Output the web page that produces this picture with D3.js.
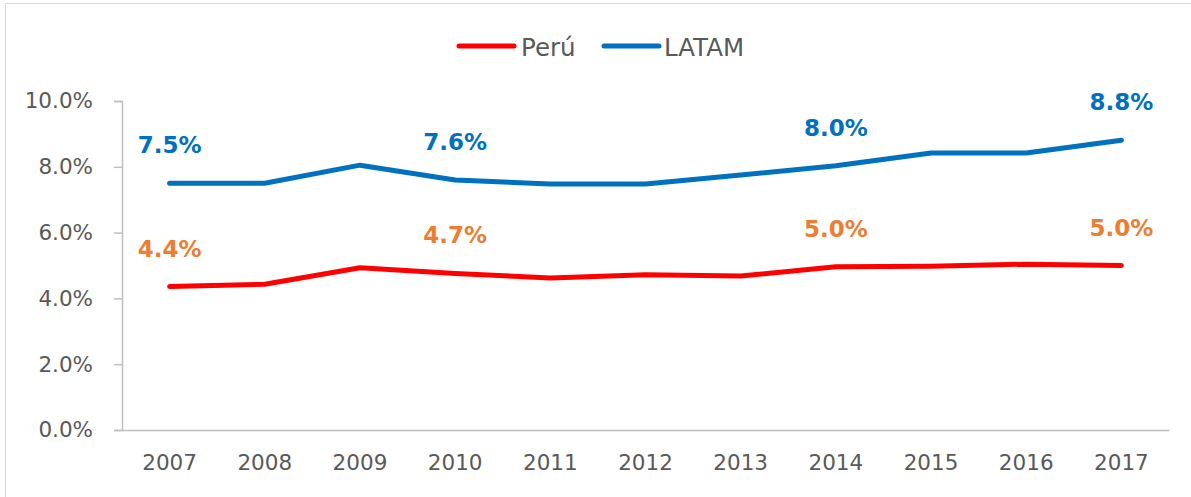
<!DOCTYPE html>
<html>
<head>
<meta charset="utf-8">
<script src="https://cdn.jsdelivr.net/npm/d3@7"></script>
<style>
  html, body { margin: 0; padding: 0; background: #fff; }
  svg { display: block; }
</style>
</head>
<body>
<svg id="chart" width="1191" height="497"></svg>
<script>
const years = ["2007","2008","2009","2010","2011","2012","2013","2014","2015","2016","2017"];
const peru  = [4.36, 4.43, 4.93, 4.76, 4.62, 4.72, 4.68, 4.96, 4.98, 5.04, 5.0];
const latam = [7.5, 7.5, 8.05, 7.6, 7.48, 7.48, 7.75, 8.03, 8.42, 8.42, 8.81];
const peruLabels  = {"2007": "4.4%", "2010": "4.7%", "2014": "5.0%", "2017": "5.0%"};
const latamLabels = {"2007": "7.5%", "2010": "7.6%", "2014": "8.0%", "2017": "8.8%"};
const yTicks = [0, 2, 4, 6, 8, 10];
const seriesNames = ["Perú", "LATAM"];

const svg = d3.select("#chart");
const font = "'DejaVu Sans', Verdana, sans-serif";

// outer frame
svg.append("rect").attr("x", 5.5).attr("y", 3.5).attr("width", 1200).attr("height", 520)
  .attr("fill", "none").attr("stroke", "#d9d9d9").attr("stroke-width", 1);

const mLeft = 122, mRight = 1169, mTop = 101, mBottom = 430;
const x = d3.scaleBand().domain(years).range([mLeft, mRight]);
const y = d3.scaleLinear().domain([0, 10]).range([mBottom, mTop]);
const cx = d => x(d) + x.bandwidth() / 2;

// y axis
const yAxis = svg.append("g").attr("transform", `translate(${mLeft},0)`)
  .call(d3.axisLeft(y).tickValues(yTicks).tickSize(8).tickPadding(21)
    .tickFormat(d => d.toFixed(1) + "%"));
yAxis.select(".domain").attr("stroke", "#bfbfbf").attr("stroke-width", 1.5);
yAxis.selectAll(".tick line").attr("stroke", "#bfbfbf").attr("stroke-width", 1.5);
yAxis.selectAll("text").attr("font-family", font).attr("font-size", 21.5)
  .attr("fill", "#595959");

// x axis
const xAxis = svg.append("g").attr("transform", `translate(0,${mBottom})`)
  .call(d3.axisBottom(x).tickSize(0).tickPadding(25));
xAxis.select(".domain").attr("stroke", "#bfbfbf").attr("stroke-width", 1.5);
xAxis.selectAll("text").attr("font-family", font).attr("font-size", 21.5)
  .attr("fill", "#595959");

const line = d3.line().x((d, i) => cx(years[i])).y(d => y(d))
  .curve(d3.curveLinear);

svg.append("path").datum(peru).attr("d", line).attr("fill", "none")
  .attr("stroke", "#ff0000").attr("stroke-width", 5)
  .attr("stroke-linecap", "round").attr("stroke-linejoin", "round");
svg.append("path").datum(latam).attr("d", line).attr("fill", "none")
  .attr("stroke", "#0070c0").attr("stroke-width", 5)
  .attr("stroke-linecap", "round").attr("stroke-linejoin", "round");

function labels(vals, map, color) {
  svg.append("g").selectAll("text")
    .data(years.map((yr, i) => ({yr, v: vals[i]})).filter(d => map[d.yr]))
    .join("text")
    .attr("x", d => cx(d.yr))
    .attr("y", d => y(d.v) - 30)
    .attr("text-anchor", "middle")
    .attr("font-family", font).attr("font-weight", "bold").attr("font-size", 23)
    .attr("fill", color)
    .text(d => map[d.yr]);
}
labels(peru, peruLabels, "#ed7d31");
labels(latam, latamLabels, "#0070c0");

// legend
const legendItems = [
  {name: seriesNames[0], color: "#ff0000", x1: 459, x2: 514, tx: 521},
  {name: seriesNames[1], color: "#0070c0", x1: 604, x2: 659, tx: 664}
];
const lg = svg.append("g");
legendItems.forEach(d => {
  lg.append("line").attr("x1", d.x1).attr("x2", d.x2).attr("y1", 46).attr("y2", 46)
    .attr("stroke", d.color).attr("stroke-width", 5).attr("stroke-linecap", "round");
  lg.append("text").attr("x", d.tx).attr("y", 56).attr("font-family", font)
    .attr("font-size", 24.5).attr("fill", "#595959").text(d.name);
});
</script>
</body>
</html>
